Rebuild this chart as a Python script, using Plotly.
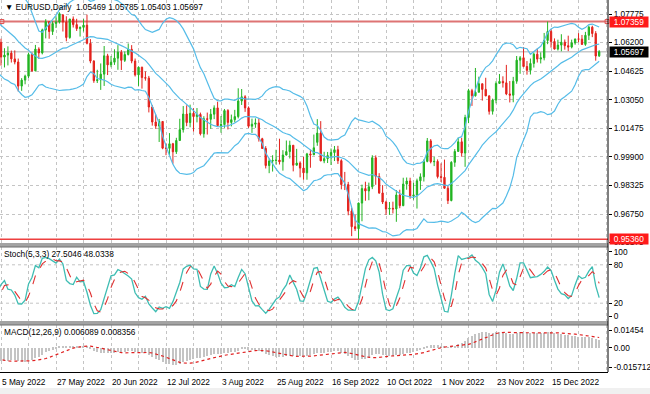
import numpy as np
import plotly.graph_objects as go

# ---------------- data ----------------
# warm-up closes (1 Mar 2022 .. 4 May 2022), used only for the indicators (off-screen)
pre_close = [1.1125, 1.1120, 1.1065, 1.0930, 1.0855, 1.0905, 1.1075, 1.0985, 1.0912, 1.0943,
             1.0955, 1.1034, 1.1093, 1.1050, 1.1016, 1.1030, 1.1005, 1.0996, 1.0983, 1.0985,
             1.1089, 1.1159, 1.1067, 1.1048, 1.0972, 1.0903, 1.0902, 1.0877, 1.0876, 1.0886,
             1.0830, 1.0890, 1.0826, 1.0808, 1.0779, 1.0789, 1.0853, 1.0836, 1.0798, 1.0715,
             1.0637, 1.0557, 1.0498, 1.0545, 1.0506, 1.0522, 1.0620]
# highs / lows of the last 10 warm-up bars (21 Apr .. 4 May)
pre_high = [1.0936, 1.0849, 1.0795, 1.0720, 1.0657, 1.0568, 1.0593, 1.0576, 1.0576, 1.0642]
pre_low = [1.0825, 1.0770, 1.0697, 1.0630, 1.0516, 1.0471, 1.0490, 1.0490, 1.0491, 1.0505]

# visible daily bars 5 May 2022 .. 4 Jan 2023
open_ = [1.0621, 1.0540, 1.0551, 1.0562, 1.0530, 1.0513, 1.0380, 1.0413, 1.0435, 1.0554,
         1.0464, 1.0584, 1.0563, 1.0690, 1.0735, 1.0681, 1.0725, 1.0733, 1.0772, 1.0733,
         1.0648, 1.0750, 1.0719, 1.0697, 1.0704, 1.0716, 1.0616, 1.0518, 1.0410, 1.0415,
         1.0446, 1.0547, 1.0497, 1.0512, 1.0534, 1.0567, 1.0522, 1.0554, 1.0583, 1.0518,
         1.0442, 1.0484, 1.0427, 1.0424, 1.0265, 1.0182, 1.0160, 1.0185, 1.0038, 1.0037,
         1.0062, 1.0018, 1.0080, 1.0140, 1.0226, 1.0179, 1.0230, 1.0212, 1.0224, 1.0117,
         1.0200, 1.0197, 1.0225, 1.0260, 1.0162, 1.0168, 1.0245, 1.0180, 1.0195, 1.0212,
         1.0298, 1.0321, 1.0260, 1.0159, 1.0170, 1.0177, 1.0090, 1.0036, 0.9942, 0.9967,
         0.9970, 0.9972, 0.9963, 1.0000, 1.0019, 1.0054, 0.9944, 0.9956, 0.9928, 0.9902,
         1.0006, 1.0001, 1.0070, 1.0121, 0.9968, 0.9980, 0.9997, 1.0014, 1.0029, 0.9969,
         0.9837, 0.9837, 0.9691, 0.9605, 0.9594, 0.9735, 0.9815, 0.9802, 0.9825, 0.9985,
         0.9882, 0.9791, 0.9741, 0.9702, 0.9706, 0.9703, 0.9780, 0.9721, 0.9840, 0.9857,
         0.9775, 0.9780, 0.9858, 0.9880, 0.9965, 1.0078, 0.9963, 0.9965, 0.9881, 0.9877,
         0.9817, 0.9749, 0.9960, 1.0020, 1.0073, 1.0011, 1.0207, 1.0355, 1.0327, 1.0346,
         1.0393, 1.0362, 1.0326, 1.0241, 1.0303, 1.0395, 1.0406, 1.0398, 1.0337, 1.0330,
         1.0407, 1.0523, 1.0536, 1.0488, 1.0467, 1.0505, 1.0556, 1.0529, 1.0536, 1.0632,
         1.0681, 1.0626, 1.0584, 1.0606, 1.0622, 1.0603, 1.0595, 1.0618, 1.0640, 1.0639,
         1.0610, 1.0660, 1.0705, 1.0670, 1.05469]
high = [1.0641, 1.0589, 1.0599, 1.0576, 1.0577, 1.0532, 1.0424, 1.0443, 1.0564, 1.0566,
        1.0607, 1.0594, 1.0697, 1.0749, 1.0737, 1.0737, 1.0765, 1.0787, 1.0777, 1.0765,
        1.0750, 1.0764, 1.0751, 1.0709, 1.0749, 1.0774, 1.0639, 1.0523, 1.0470, 1.0505,
        1.0601, 1.0558, 1.0546, 1.0583, 1.0606, 1.0579, 1.0571, 1.0615, 1.0606, 1.0532,
        1.0488, 1.0487, 1.0461, 1.0436, 1.0276, 1.0224, 1.0199, 1.0187, 1.0065, 1.0121,
        1.0067, 1.0095, 1.0200, 1.0270, 1.0274, 1.0278, 1.0258, 1.0259, 1.0234, 1.0214,
        1.0234, 1.0254, 1.0274, 1.0294, 1.0215, 1.0254, 1.0253, 1.0223, 1.0249, 1.0368,
        1.0364, 1.0330, 1.0268, 1.0201, 1.0202, 1.0203, 1.0095, 1.0049, 0.9981, 0.9999,
        1.0029, 1.0090, 1.0027, 1.0080, 1.0079, 1.0055, 1.0034, 0.9965, 0.9990, 1.0012,
        1.0030, 1.0113, 1.0198, 1.0187, 1.0018, 1.0017, 1.0036, 1.0050, 1.0051, 0.9977,
        0.9907, 0.9852, 0.9709, 0.9671, 0.9738, 0.9837, 0.9853, 0.9848, 0.9999, 0.9998,
        0.9900, 0.9834, 0.9748, 0.9741, 0.9743, 0.9807, 0.9809, 0.9875, 0.9876, 0.9875,
        0.9847, 0.9870, 0.9899, 0.9976, 1.0094, 1.0088, 0.9990, 0.9976, 0.9954, 0.9975,
        0.9832, 0.9966, 1.0033, 1.0096, 1.0095, 1.0222, 1.0365, 1.0365, 1.0480, 1.0432,
        1.0394, 1.0426, 1.0330, 1.0311, 1.0407, 1.0447, 1.0434, 1.0497, 1.0408, 1.0431,
        1.0546, 1.0546, 1.0595, 1.0518, 1.0532, 1.0565, 1.0588, 1.0566, 1.0673, 1.0736,
        1.0695, 1.0643, 1.0636, 1.0666, 1.0637, 1.0658, 1.0636, 1.0641, 1.0672, 1.0662,
        1.0679, 1.0714, 1.0713, 1.0683, 1.05785]
low = [1.0493, 1.0483, 1.0494, 1.0510, 1.0500, 1.0350, 1.0354, 1.0390, 1.0425, 1.0459,
       1.0462, 1.0530, 1.0555, 1.0643, 1.0641, 1.0662, 1.0700, 1.0725, 1.0681, 1.0627,
       1.0641, 1.0703, 1.0684, 1.0653, 1.0681, 1.0610, 1.0506, 1.0398, 1.0397, 1.0359,
       1.0381, 1.0441, 1.0484, 1.0497, 1.0470, 1.0469, 1.0513, 1.0549, 1.0506, 1.0433,
       1.0381, 1.0366, 1.0410, 1.0235, 1.0162, 1.0144, 1.0072, 1.0032, 0.9999, 0.9998,
       0.9952, 1.0006, 1.0080, 1.0124, 1.0159, 1.0153, 1.0129, 1.0180, 1.0108, 1.0096,
       1.0113, 1.0145, 1.0198, 1.0160, 1.0123, 1.0150, 1.0141, 1.0158, 1.0180, 1.0202,
       1.0276, 1.0238, 1.0150, 1.0122, 1.0150, 1.0074, 1.0034, 0.9926, 0.9900, 0.9909,
       0.9948, 0.9948, 0.9914, 0.9998, 0.9981, 0.9910, 0.9943, 0.9877, 0.9864, 0.9864,
       0.9930, 1.0001, 1.0051, 0.9966, 0.9955, 0.9956, 0.9945, 0.9967, 0.9951, 0.9811,
       0.9807, 0.9668, 0.9553, 0.9581, 0.9536, 0.9635, 0.9748, 0.9751, 0.9812, 0.9836,
       0.9786, 0.9730, 0.9670, 0.9670, 0.9678, 0.9632, 0.9707, 0.9718, 0.9809, 0.9759,
       0.9754, 0.9705, 0.9808, 0.9854, 0.9960, 0.9954, 0.9939, 0.9871, 0.9851, 0.9814,
       0.9730, 0.9745, 0.9935, 1.0019, 0.9991, 0.9935, 1.0176, 1.0271, 1.0322, 1.0346,
       1.0300, 1.0325, 1.0223, 1.0223, 1.0285, 1.0392, 1.0372, 1.0330, 1.0290, 1.0291,
       1.0393, 1.0448, 1.0484, 1.0443, 1.0444, 1.0482, 1.0510, 1.0505, 1.0522, 1.0611,
       1.0592, 1.0582, 1.0576, 1.0572, 1.0581, 1.0573, 1.0588, 1.0608, 1.0622, 1.0607,
       1.0602, 1.0634, 1.0650, 1.0520, 1.05403]
close = [1.0540, 1.0551, 1.0562, 1.0530, 1.0513, 1.0380, 1.0413, 1.0435, 1.0554, 1.0464,
         1.0584, 1.0563, 1.0690, 1.0735, 1.0681, 1.0725, 1.0733, 1.0779, 1.0733, 1.0648,
         1.0750, 1.0719, 1.0697, 1.0704, 1.0716, 1.0616, 1.0518, 1.0410, 1.0415, 1.0446,
         1.0547, 1.0497, 1.0512, 1.0534, 1.0567, 1.0522, 1.0554, 1.0583, 1.0518, 1.0442,
         1.0484, 1.0427, 1.0424, 1.0265, 1.0182, 1.0160, 1.0185, 1.0038, 1.0037, 1.0062,
         1.0018, 1.0080, 1.0140, 1.0226, 1.0179, 1.0230, 1.0212, 1.0224, 1.0117, 1.0200,
         1.0197, 1.0225, 1.0260, 1.0162, 1.0168, 1.0245, 1.0180, 1.0195, 1.0212, 1.0298,
         1.0321, 1.0260, 1.0159, 1.0170, 1.0177, 1.0090, 1.0036, 0.9942, 0.9967, 0.9970,
         0.9972, 0.9963, 1.0000, 1.0019, 1.0054, 0.9944, 0.9956, 0.9928, 0.9902, 1.0006,
         1.0001, 1.0040, 1.0121, 0.9968, 0.9980, 0.9997, 1.0014, 1.0029, 0.9969, 0.9837,
         0.9837, 0.9691, 0.9605, 0.9594, 0.9735, 0.9815, 0.9802, 0.9825, 0.9985, 0.9882,
         0.9791, 0.9741, 0.9702, 0.9706, 0.9703, 0.9780, 0.9721, 0.9840, 0.9857, 0.9775,
         0.9780, 0.9858, 0.9880, 0.9965, 1.0078, 0.9963, 0.9965, 0.9881, 0.9877, 0.9817,
         0.9749, 0.9960, 1.0020, 1.0073, 1.0011, 1.0207, 1.0355, 1.0327, 1.0346, 1.0393,
         1.0362, 1.0326, 1.0241, 1.0303, 1.0395, 1.0406, 1.0398, 1.0337, 1.0330, 1.0407,
         1.0523, 1.0536, 1.0488, 1.0467, 1.0505, 1.0556, 1.0529, 1.0536, 1.0632, 1.0681,
         1.0626, 1.0584, 1.0606, 1.0622, 1.0603, 1.0595, 1.0618, 1.0640, 1.0639, 1.0610,
         1.0660, 1.0705, 1.0670, 1.0546, 1.05697]

date_labels = ["5 May 2022", "27 May 2022", "20 Jun 2022", "12 Jul 2022", "3 Aug 2022",
               "25 Aug 2022", "16 Sep 2022", "10 Oct 2022", "1 Nov 2022", "23 Nov 2022",
               "15 Dec 2022"]
date_label_bars = [0, 16, 32, 48, 64, 80, 96, 112, 128, 144, 160]

price_ticks = [1.07775, 1.06200, 1.04625, 1.03050, 1.01475, 0.99900, 0.98325, 0.96750, 0.95175]
stoch_ticks = [0, 20, 80, 100]
macd_ticks = [-0.015712, 0.0, 0.01454]
macd_ticktext = ["-0.015712", "0.00", "0.01454"]

hline_top = 1.07359
hline_bottom = 0.95360
last_price = 1.05697
title_text = "\u25bc EURUSD,Daily  1.05469 1.05785 1.05403 1.05697"
stoch_text = "Stoch(5,3,3) 27.5046 48.0338"
macd_text = "MACD(12,26,9) 0.006089 0.008356"

# ---------------- indicators ----------------
n_pre = len(pre_close)
n = len(close)
c_all = np.array(pre_close + close)
x_all = np.arange(len(c_all)) - n_pre

# Bollinger Bands (20, 2)
mid = np.full(len(c_all), np.nan); up = mid.copy(); dn = mid.copy()
for i in range(19, len(c_all)):
    w = c_all[i - 19:i + 1]
    m = w.mean(); s = w.std()
    mid[i] = m; up[i] = m + 2 * s; dn[i] = m - 2 * s

# MACD (12, 26, 9) - MT4 style: SMA signal
def ema(a, p):
    k = 2.0 / (p + 1)
    out = np.empty_like(a)
    out[0] = a[0]
    for i in range(1, len(a)):
        out[i] = a[i] * k + out[i - 1] * (1 - k)
    return out
macd_main = ema(c_all, 12) - ema(c_all, 26)
macd_sig = np.full(len(c_all), np.nan)
for i in range(8, len(c_all)):
    macd_sig[i] = macd_main[i - 8:i + 1].mean()

# Stochastic (5, 3, 3)
h_s = np.array(pre_high + high); l_s = np.array(pre_low + low)
c_s = np.array(pre_close[-10:] + close)
x_s = np.arange(len(c_s)) - 10
ll = np.full(len(c_s), np.nan); hh = ll.copy()
for i in range(4, len(c_s)):
    ll[i] = l_s[i - 4:i + 1].min(); hh[i] = h_s[i - 4:i + 1].max()
k_main = np.full(len(c_s), np.nan)
for i in range(6, len(c_s)):
    num = sum(c_s[j] - ll[j] for j in range(i - 2, i + 1))
    den = sum(hh[j] - ll[j] for j in range(i - 2, i + 1))
    k_main[i] = 100 * num / den
d_sig = np.full(len(c_s), np.nan)
for i in range(8, len(c_s)):
    d_sig[i] = k_main[i - 2:i + 1].mean()

# ---------------- figure ----------------
G = "#22b422"
R = "#e3211c"
BB = "#55bce8"
FONT = "Liberation Sans, Arial, sans-serif"
FS = 8.3
bars = list(range(n))

fig = go.Figure()
fig.add_trace(go.Candlestick(
    x=bars, open=open_, high=high, low=low, close=close,
    increasing=dict(line=dict(color=G, width=1), fillcolor=G),
    decreasing=dict(line=dict(color=R, width=1), fillcolor=R),
    whiskerwidth=0, xaxis="x", yaxis="y", hoverinfo="skip"))

sel = x_all >= -3
for arr in (up, mid, dn):
    fig.add_trace(go.Scatter(x=x_all[sel], y=arr[sel], mode="lines",
                             line=dict(color=BB, width=1.2), yaxis="y", hoverinfo="skip"))

# handles of the horizontal line
fig.add_trace(go.Scatter(x=[0.25, 176.3], y=[hline_top, hline_top], mode="markers",
                         marker=dict(symbol="square-open", size=4, color="#e05050",
                                     line=dict(width=1, color="#e05050")),
                         cliponaxis=False, yaxis="y", hoverinfo="skip"))

sel_s = x_s >= -2
fig.add_trace(go.Scatter(x=x_s[sel_s], y=k_main[sel_s], mode="lines",
                         line=dict(color="#3fbdb3", width=1.3), yaxis="y2", hoverinfo="skip"))
fig.add_trace(go.Scatter(x=x_s[sel_s], y=d_sig[sel_s], mode="lines",
                         line=dict(color="#e03030", width=1.1, dash="dash"), yaxis="y2", hoverinfo="skip"))

vis = x_all >= 0
fig.add_trace(go.Bar(x=x_all[vis], y=macd_main[vis], width=0.32,
                     marker=dict(color="#c4c4c4", line=dict(width=0)), yaxis="y3", hoverinfo="skip"))
fig.add_trace(go.Scatter(x=x_all[sel], y=macd_sig[sel], mode="lines",
                         line=dict(color="#e02020", width=1.2, dash="dot"), yaxis="y3", hoverinfo="skip"))

tickfont = dict(family=FONT, size=FS, color="black")
grid = dict(gridcolor="#c4c4c4", griddash="dot", gridwidth=1)

fig.update_layout(
    width=650, height=394, margin=dict(l=0, r=42, t=0, b=22),
    paper_bgcolor="white", plot_bgcolor="white", showlegend=False,
    boxgap=0.45, bargap=0,
    font=dict(family=FONT, size=FS, color="black"),
    xaxis=dict(range=[-0.3, 176.57], anchor="y3", showgrid=True, **grid,
               tick0=0, dtick=8, showticklabels=False, ticks="",
               showline=True, linecolor="black", linewidth=1, zeroline=False,
               rangeslider=dict(visible=False), fixedrange=True),
    yaxis=dict(domain=[0.34677, 1], range=[0.95151, 1.08547], side="right", anchor="x",
               tickvals=price_ticks, ticktext=["%.5f" % v for v in price_ticks],
               showgrid=True, **grid, ticks="outside", ticklen=3, tickcolor="black",
               tickfont=tickfont, zeroline=False, showline=False),
    yaxis2=dict(domain=[0.13710, 0.33602], range=[-7.8, 107.8], side="right", anchor="x",
                tickvals=stoch_ticks, ticktext=[str(v) for v in stoch_ticks],
                showgrid=False, ticks="outside", ticklen=3, tickcolor="black",
                tickfont=tickfont, zeroline=False),
    yaxis3=dict(domain=[0, 0.12634], range=[-0.0198, 0.01863], side="right", anchor="x",
                tickvals=macd_ticks, ticktext=macd_ticktext,
                showgrid=False, ticks="outside", ticklen=3, tickcolor="black",
                tickfont=tickfont, zeroline=False),
)

shapes = []
# horizontal reference lines
shapes.append(dict(type="line", xref="paper", x0=0, x1=1, yref="y", y0=last_price, y1=last_price,
                   line=dict(color="#c8c8c8", width=1.5), layer="below"))
shapes.append(dict(type="line", xref="paper", x0=0, x1=1, yref="y", y0=hline_top, y1=hline_top,
                   line=dict(color="#de7474", width=2), layer="below"))
shapes.append(dict(type="line", xref="paper", x0=0, x1=1, yref="y", y0=hline_bottom, y1=hline_bottom,
                   line=dict(color="#ee4040", width=1.6), layer="below"))
# stochastic levels
for lv in (20, 80):
    shapes.append(dict(type="line", xref="paper", x0=0, x1=1, yref="y2", y0=lv, y1=lv,
                       line=dict(color="#c4c4c4", width=1, dash="dot"), layer="below"))
# window separators
for y0, y1 in ((0.33602, 0.34677), (0.12634, 0.13710)):
    shapes.append(dict(type="rect", xref="paper", x0=0, x1=1, yref="paper", y0=y0, y1=y1,
                       fillcolor="#a3a3a3", line=dict(width=0), layer="above"))
    shapes.append(dict(type="line", xref="paper", x0=0, x1=1, yref="paper", y0=y0, y1=y0,
                       line=dict(color="#6e6e6e", width=1), layer="above"))
# right axis line
shapes.append(dict(type="line", xref="paper", x0=1, x1=1, yref="paper", y0=0, y1=1,
                   line=dict(color="black", width=1), layer="above"))
# bottom status strip
shapes.append(dict(type="rect", xref="paper", x0=0, x1=650 / 608, yref="paper", y0=-0.06, y1=-0.043,
                   fillcolor="#f0f0f0", line=dict(width=0)))
fig.update_layout(shapes=shapes)

ann = []
ann.append(dict(text=title_text, xref="paper", yref="paper", x=0, y=(372 - 7) / 372,
                xanchor="left", yanchor="middle", xshift=3, showarrow=False,
                font=dict(family=FONT, size=FS, color="black")))
ann.append(dict(text=stoch_text, xref="paper", yref="paper", x=0, y=(372 - 254.5) / 372,
                xanchor="left", yanchor="middle", xshift=2, showarrow=False,
                font=dict(family=FONT, size=FS, color="black")))
ann.append(dict(text=macd_text, xref="paper", yref="paper", x=0, y=(372 - 331.5) / 372,
                xanchor="left", yanchor="middle", xshift=2, showarrow=False,
                font=dict(family=FONT, size=FS, color="black")))
for b, t in zip(date_label_bars, date_labels):
    ann.append(dict(text=t, xref="x", yref="paper", x=b, y=-9.5 / 372,
                    xanchor="left", yanchor="middle", xshift=-1, showarrow=False,
                    font=dict(family=FONT, size=FS, color="black")))
for val, bg in ((hline_top, "#ff1a1a"), (last_price, "#000000"), (hline_bottom, "#ff1a1a")):
    ann.append(dict(text="%.5f" % val, xref="paper", yref="y", x=1, y=val,
                    xanchor="left", yanchor="middle", xshift=1, showarrow=False,
                    bgcolor=bg, width=38, height=10, borderpad=0, align="center",
                    font=dict(family=FONT, size=FS, color="white")))
fig.update_layout(annotations=ann)

fig.write_html("out.html", config={"displayModeBar": False},
               post_script="document.body.style.margin='0';document.body.style.padding='0';"
                           "document.body.style.overflow='hidden';")
